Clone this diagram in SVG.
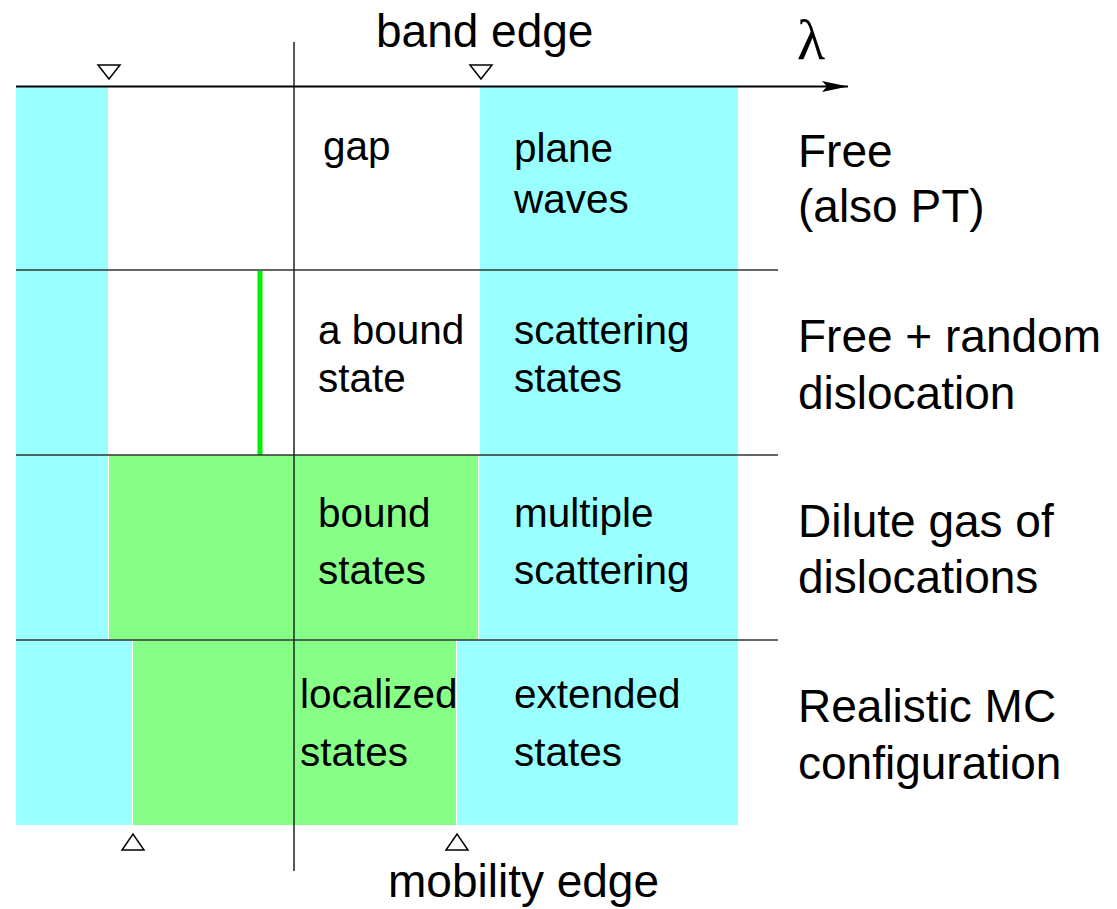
<svg xmlns="http://www.w3.org/2000/svg" width="1117" height="909" viewBox="0 0 1117 909">
<style>
.cy{fill:#99ffff}
.gr{fill:#87ff87}
.in{font-family:"Liberation Sans",Arial,sans-serif;font-size:40.5px;fill:#000}
.out{font-family:"Liberation Sans",Arial,sans-serif;font-size:46px;fill:#000}
.sep{stroke:#333;stroke-width:1.5;fill:none}
.tri{fill:#fff;stroke:#000;stroke-width:1.5}
</style>
<defs>
<marker id="arr" markerUnits="userSpaceOnUse" markerWidth="30" markerHeight="14" refX="26" refY="7" orient="auto">
<path d="M0,1.5 L26,7 L0,12.5 L5,7 Z" fill="#000"/>
</marker>
</defs>
<rect width="1117" height="909" fill="#fff"/>
<g id="row1">
<rect class="cy" x="16" y="86" width="92" height="184"/>
<rect class="cy" x="480" y="86" width="258" height="184"/>
<text class="in" x="323" y="160">gap</text>
<text class="in" x="514" y="162">plane</text>
<text class="in" x="514" y="213">waves</text>
<text class="out" x="798" y="167">Free</text>
<text class="out" x="798" y="222">(also PT)</text>
</g>
<g id="row2">
<rect class="cy" x="16" y="270" width="92" height="185"/>
<rect class="cy" x="480" y="270" width="258" height="185"/>
<rect x="257.5" y="271" width="5" height="184" fill="#00ee00"/>
<text class="in" x="318" y="344">a bound</text>
<text class="in" x="318" y="392">state</text>
<text class="in" x="514" y="344">scattering</text>
<text class="in" x="514" y="392">states</text>
<text class="out" x="798" y="352">Free + random</text>
<text class="out" x="798" y="409">dislocation</text>
</g>
<g id="row3">
<rect class="cy" x="16" y="455" width="92" height="185"/>
<rect class="gr" x="109" y="455" width="369" height="185"/>
<rect class="cy" x="479" y="455" width="259" height="185"/>
<text class="in" x="318" y="527">bound</text>
<text class="in" x="318" y="584">states</text>
<text class="in" x="514" y="527">multiple</text>
<text class="in" x="514" y="584">scattering</text>
<text class="out" x="798" y="537">Dilute gas of</text>
<text class="out" x="798" y="593">dislocations</text>
</g>
<g id="row4">
<rect class="cy" x="16" y="640" width="116" height="185"/>
<rect class="gr" x="133" y="640" width="323" height="185"/>
<rect class="cy" x="457" y="640" width="281" height="185"/>
<text class="in" x="300" y="708">localized</text>
<text class="in" x="300" y="766">states</text>
<text class="in" x="514" y="708">extended</text>
<text class="in" x="514" y="766">states</text>
<text class="out" x="798" y="722">Realistic MC</text>
<text class="out" x="798" y="779">configuration</text>
</g>
<g id="connectors">
<line class="sep" x1="16" y1="270" x2="778" y2="270"/>
<line class="sep" x1="16" y1="455" x2="778" y2="455"/>
<line class="sep" x1="16" y1="640" x2="778" y2="640"/>
<line x1="294" y1="42" x2="294" y2="871" stroke="#222" stroke-width="1.5"/>
<line x1="16" y1="86.5" x2="848" y2="86.5" stroke="#000" stroke-width="2" marker-end="url(#arr)"/>
</g>
<g id="markers">
<polygon class="tri" points="98,65 120,65 109,79"/>
<polygon class="tri" points="470,65 492,65 481,79"/>
<polygon class="tri" points="122,850 144,850 133,834"/>
<polygon class="tri" points="446,850 468,850 457,834"/>
</g>
<g id="labels">
<text class="out" x="376" y="47">band edge</text>
<text x="797" y="59" font-family="Liberation Serif,serif" font-size="58px">λ</text>
<text class="out" x="388" y="897">mobility edge</text>
</g>
</svg>
